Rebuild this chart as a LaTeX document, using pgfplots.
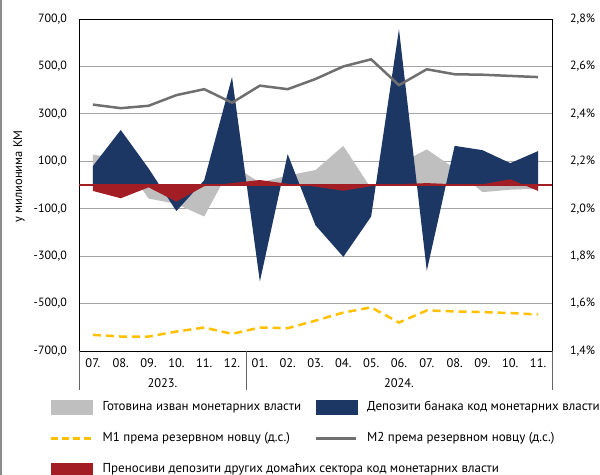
\documentclass[border=0pt]{standalone}
\usepackage{fontspec}
\setmainfont{PT Sans}
\usepackage{pgfplots}
\pgfplotsset{compat=1.18}

\definecolor{cashgray}{HTML}{BFBFBF}
\definecolor{banknavy}{HTML}{1D3764}
\definecolor{transred}{HTML}{A31D24}
\definecolor{mtwo}{HTML}{6F6F6F}
\definecolor{mone}{HTML}{FFC000}
\definecolor{gridgray}{HTML}{A6A6A6}

\begin{document}
\fontsize{12.5}{15}\selectfont
\begin{tikzpicture}
\path[use as bounding box] (0,0) rectangle (600bp,475bp);
\draw[black!45, line width=1.5bp] (1bp,0) -- (1bp,475bp);

% left axis: flows in millions KM
\begin{axis}[
  at={(79bp,124bp)}, anchor=south west,
  width=473bp, height=332bp, scale only axis,
  xmin=-0.5, xmax=16.5, ymin=-700, ymax=700,
  xtick={0,...,16},
  xticklabels={07.,08.,09.,10.,11.,12.,01.,02.,03.,04.,05.,06.,07.,08.,09.,10.,11.},
  ytick={-700,-500,...,700},
  major tick length=0pt,
  ymajorgrids, grid style={gridgray, line width=0.8bp},
  axis line style={black, line width=0.8bp},
  clip=false,
  /pgf/number format/assume math mode=true,
  yticklabel style={inner sep=0pt, anchor=east, xshift=-12bp, font=\fontsize{12}{14}\selectfont,
    /pgf/number format/.cd, fixed, fixed zerofill, precision=1, use comma, 1000 sep={}},
  xticklabel style={inner sep=0pt, anchor=center, yshift=-12bp},
  ylabel={у милионима КМ},
  ylabel style={at={(axis description cs:-0.127,0.526)}, anchor=center},
]
\addplot[fill=cashgray, draw=none] coordinates {
  (0,128) (1,110) (2,-57) (3,-80) (4,-133) (5,85) (6,10) (7,40) (8,63)
  (9,165) (10,-15) (11,89) (12,150) (13,70) (14,-30) (15,-20) (16,-15)
} \closedcycle;
\addplot[fill=banknavy, draw=none] coordinates {
  (0,80) (1,232) (2,70) (3,-110) (4,20) (5,455) (6,-407) (7,130) (8,-170)
  (9,-303) (10,-133) (11,657) (12,-362) (13,165) (14,147) (15,92) (16,143)
} \closedcycle;
\addplot[fill=transred, draw=none] coordinates {
  (0,-25) (1,-56) (2,-10) (3,-70) (4,-5) (5,8) (6,21) (7,5) (8,-7)
  (9,-24) (10,-5) (11,3) (12,8) (13,3) (14,3) (15,24) (16,-25)
} \closedcycle;
\draw[transred, line width=1.8bp] (axis cs:-0.5,0) -- (axis cs:16.5,0);
\draw[black!60, line width=0.8bp] (axis cs:5.5,-700) -- ([yshift=-39bp]axis cs:5.5,-700);
\draw[black!60, line width=0.8bp] (axis cs:-0.5,-700) -- ([yshift=-39bp]axis cs:-0.5,-700);
\draw[black!60, line width=0.8bp] (axis cs:16.5,-700) -- ([yshift=-39bp]axis cs:16.5,-700);
\node[inner sep=0pt] at (axis cs:2.5,-700) [yshift=-32bp] {2023.};
\node[inner sep=0pt] at (axis cs:11,-700) [yshift=-32bp] {2024.};
\end{axis}

% right axis: ratios to reserve money
\begin{axis}[
  at={(79bp,124bp)}, anchor=south west,
  width=473bp, height=332bp, scale only axis,
  xmin=-0.5, xmax=16.5, ymin=1.4, ymax=2.8,
  axis y line*=right, axis x line=none,
  ytick={1.4,1.6,1.8,2.0,2.2,2.4,2.6,2.8},
  major tick length=0pt,
  axis line style={black, line width=0.8bp},
  /pgf/number format/assume math mode=true,
  yticklabel={\pgfmathprintnumber{\tick}\%},
  yticklabel style={inner sep=0pt, anchor=west, xshift=18bp, font=\fontsize{12}{14}\selectfont,
    /pgf/number format/.cd, fixed, fixed zerofill, precision=1, use comma},
  legend columns=2,
  legend cell align=left,
  legend style={at={(axis description cs:-0.0613,-0.1476)}, anchor=north west,
    draw=none, fill=none, inner sep=0pt, row sep=18bp,
    font=\fontsize{13}{15}\selectfont,
    nodes={inner sep=0pt, text height=9bp, text depth=3bp},
    /tikz/every odd column/.append style={column sep=10bp}},
]
\addlegendimage{legend image code/.code={\fill[cashgray] (0bp,-7bp) rectangle (41bp,7bp);}}
\addlegendentry{\makebox[212bp][l]{Готовина изван монетарних власти}}
\addlegendimage{legend image code/.code={\fill[banknavy] (0bp,-7bp) rectangle (41bp,7bp);}}
\addlegendentry{Депозити банака код монетарних власти}
\addplot[mone, line width=2.5bp, dash pattern=on 8bp off 5bp,
  legend image code/.code={\draw[mone, line width=2.5bp, dash pattern=on 7bp off 4bp] (0bp,0bp) -- (40bp,0bp);}]
  coordinates {
  (0,1.468) (1,1.461) (2,1.461) (3,1.482) (4,1.499) (5,1.472) (6,1.499) (7,1.496) (8,1.528)
  (9,1.562) (10,1.584) (11,1.520) (12,1.571) (13,1.567) (14,1.564) (15,1.560) (16,1.554)
};
\addlegendentry{\makebox[212bp][l]{М1 према резервном новцу (д.с.)}}
\addplot[mtwo, line width=2.5bp,
  legend image code/.code={\draw[mtwo, line width=2.5bp] (0bp,0bp) -- (40bp,0bp);}]
  coordinates {
  (0,2.439) (1,2.424) (2,2.434) (3,2.479) (4,2.504) (5,2.447) (6,2.519) (7,2.504) (8,2.547)
  (9,2.600) (10,2.630) (11,2.521) (12,2.588) (13,2.567) (14,2.565) (15,2.560) (16,2.555)
};
\addlegendentry{М2 према резервном новцу (д.с.)}
\addlegendimage{legend image code/.code={\fill[transred] (0bp,-7bp) rectangle (41bp,7bp);}}
\addlegendentry{\makebox[212bp][l]{Преносиви депозити других домаћих сектора код монетарних власти}}
\end{axis}
\end{tikzpicture}
\end{document}
